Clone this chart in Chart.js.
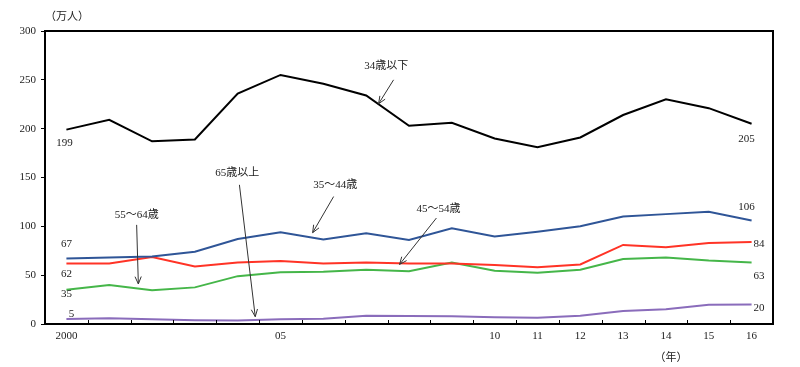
<!DOCTYPE html>
<html>
<head>
<meta charset="utf-8">
<script src="https://cdn.jsdelivr.net/npm/chart.js@4/dist/chart.umd.min.js"></script>
<style>
  html, body { margin: 0; padding: 0; background: #fff; }
</style>
</head>
<body>
<canvas id="myChart" width="800" height="367"></canvas>
<script>
// data (万人)
const years = [2000, 2001, 2002, 2003, 2004, 2005, 2006, 2007, 2008, 2009, 2010, 2011, 2012, 2013, 2014, 2015, 2016];
const tickLabels = ['2000', '', '', '', '', '05', '', '', '', '', '10', '11', '12', '13', '14', '15', '16'];
const age34under = [199, 209, 187, 189, 236, 255, 246, 234, 203, 206, 190, 181, 191, 214, 230, 221, 205];
const age35to44 = [67, 68, 69, 74, 87, 94, 86.5, 93, 86, 98, 89.5, 94.5, 100, 110, 112.5, 115, 106];
const age45to54 = [62, 62, 68.5, 59, 63, 64.5, 62, 63, 62, 62, 60.5, 58, 61, 81, 78.5, 83, 84];
const age55to64 = [35, 40, 34.5, 37.5, 49, 53, 53.5, 55.5, 54, 63, 54.5, 52.5, 55.5, 66.5, 68, 65, 63];
const age65over = [5, 5.8, 4.8, 3.8, 3.5, 4.8, 5.5, 8.5, 8.2, 8, 6.8, 6.5, 8.5, 13.3, 15, 19.8, 20];
const yTicks = [0, 50, 100, 150, 200, 250, 300];

// callouts: text, text anchor, arrow start, arrow tip (category index, value)
const callouts = [
    { text: '34歳以下', at: [7.47, 264.5], from: [7.64, 250], to: [7.29, 225.5] },
    { text: '65歳以上', at: [3.99, 155], from: [4.04, 142.5], to: [4.41, 7.5] },
    { text: '35～44歳', at: [6.28, 142.5], from: [6.24, 130.5], to: [5.75, 93.5] },
    { text: '55～64歳', at: [1.64, 112], from: [1.64, 101.5], to: [1.68, 41] },
    { text: '45～54歳', at: [8.69, 118], from: [8.64, 108.5], to: [7.78, 61] }
];

const FONT = '"Liberation Serif", "Noto Sans CJK JP", serif';
const TEXT = '#222';

function series(label, data, color, width) {
    return {
        label: label,
        data: data,
        borderColor: color,
        backgroundColor: color,
        borderWidth: width,
        pointRadius: 0,
        tension: 0,
        fill: false
    };
}

// frame around the plot plus the small inward ticks on the x axis
const framePlugin = {
    id: 'frame',
    afterDatasetsDraw(chart) {
        const { ctx, chartArea: a, scales } = chart;
        const x = scales.x;
        ctx.save();
        ctx.strokeStyle = '#000';
        ctx.lineWidth = 1;
        ctx.beginPath();
        for (let i = 0; i < years.length - 1; i++) {
            const px = Math.round((x.getPixelForValue(i) + x.getPixelForValue(i + 1)) / 2) + 0.5;
            ctx.moveTo(px, a.bottom);
            ctx.lineTo(px, a.bottom - 4);
        }
        ctx.stroke();
        ctx.lineWidth = 2;
        ctx.strokeRect(a.left, a.top, a.right - a.left, a.bottom - a.top);
        ctx.restore();
    }
};

function arrow(ctx, x1, y1, x2, y2) {
    const ang = Math.atan2(y2 - y1, x2 - x1);
    const len = 8, spread = 0.4;
    ctx.beginPath();
    ctx.moveTo(x1, y1);
    ctx.lineTo(x2, y2);
    ctx.moveTo(x2 - len * Math.cos(ang - spread), y2 - len * Math.sin(ang - spread));
    ctx.lineTo(x2, y2);
    ctx.lineTo(x2 - len * Math.cos(ang + spread), y2 - len * Math.sin(ang + spread));
    ctx.stroke();
}

// end value labels, callouts and unit captions
const labelPlugin = {
    id: 'labels',
    afterDraw(chart) {
        const { ctx, chartArea: a, scales } = chart;
        const x = scales.x, y = scales.y;
        ctx.save();
        ctx.fillStyle = TEXT;
        ctx.strokeStyle = '#333';
        ctx.lineWidth = 1;
        ctx.textBaseline = 'middle';

        ctx.font = '11px ' + FONT;
        const last = years.length - 1;
        // first values: [series, dx, dy, align]
        const firsts = [[age34under, -2, 13, 'center'], [age35to44, 0, -14, 'center'], [age45to54, 0, 11, 'center'],
                        [age55to64, 0, 4, 'center'], [age65over, 5, -5, 'center']];
        firsts.forEach(f => {
            ctx.textAlign = f[3];
            ctx.fillText(String(Math.round(f[0][0])), x.getPixelForValue(0) + f[1], y.getPixelForValue(f[0][0]) + f[2]);
        });
        const lasts = [[age34under, -5, 15, 'center'], [age35to44, -5, -13, 'center'], [age45to54, 2, 2, 'left'],
                       [age55to64, 2, 14, 'left'], [age65over, 2, 4, 'left']];
        lasts.forEach(f => {
            ctx.textAlign = f[3];
            ctx.fillText(String(Math.round(f[0][last])), x.getPixelForValue(last) + f[1], y.getPixelForValue(f[0][last]) + f[2]);
        });

        ctx.textAlign = 'center';
        callouts.forEach(c => {
            ctx.fillText(c.text, x.getPixelForValue(c.at[0]), y.getPixelForValue(c.at[1]));
            arrow(ctx, x.getPixelForValue(c.from[0]), y.getPixelForValue(c.from[1]),
                  x.getPixelForValue(c.to[0]), y.getPixelForValue(c.to[1]));
        });

        ctx.fillText('（万人）', a.left + 22, a.top - 14);
        ctx.fillText('（年）', x.getPixelForValue(14) + 5, a.bottom + 34);
        ctx.restore();
    }
};

new Chart(document.getElementById('myChart').getContext('2d'), {
    type: 'line',
    data: {
        labels: years,
        datasets: [
            series('34歳以下', age34under, '#000000', 2),
            series('35～44歳', age35to44, '#2f5597', 2),
            series('45～54歳', age45to54, '#ff3326', 2),
            series('55～64歳', age55to64, '#45b649', 2),
            series('65歳以上', age65over, '#8a6cbb', 2)
        ]
    },
    options: {
        responsive: false,
        animation: false,
        layout: { padding: { top: 31, right: 27, left: 0, bottom: 0 } },
        plugins: {
            legend: { display: false },
            tooltip: { enabled: false }
        },
        scales: {
            x: {
                type: 'category',
                offset: true,
                grid: { display: false, drawTicks: false, tickLength: 0 },
                border: { display: false },
                ticks: {
                    autoSkip: false,
                    maxRotation: 0,
                    padding: 6,
                    color: TEXT,
                    font: { family: FONT, size: 11 },
                    callback: (v, i) => tickLabels[i]
                },
                afterFit: s => { s.height = 43; }
            },
            y: {
                min: 0,
                max: 300,
                afterBuildTicks: s => { s.ticks = yTicks.map(v => ({ value: v })); },
                grid: { drawOnChartArea: false, tickLength: 4, color: '#000' },
                border: { display: false },
                ticks: {
                    padding: 5,
                    color: TEXT,
                    font: { family: FONT, size: 11 }
                },
                afterFit: s => { s.width = 45; }
            }
        }
    },
    plugins: [framePlugin, labelPlugin]
});
</script>
</body>
</html>
